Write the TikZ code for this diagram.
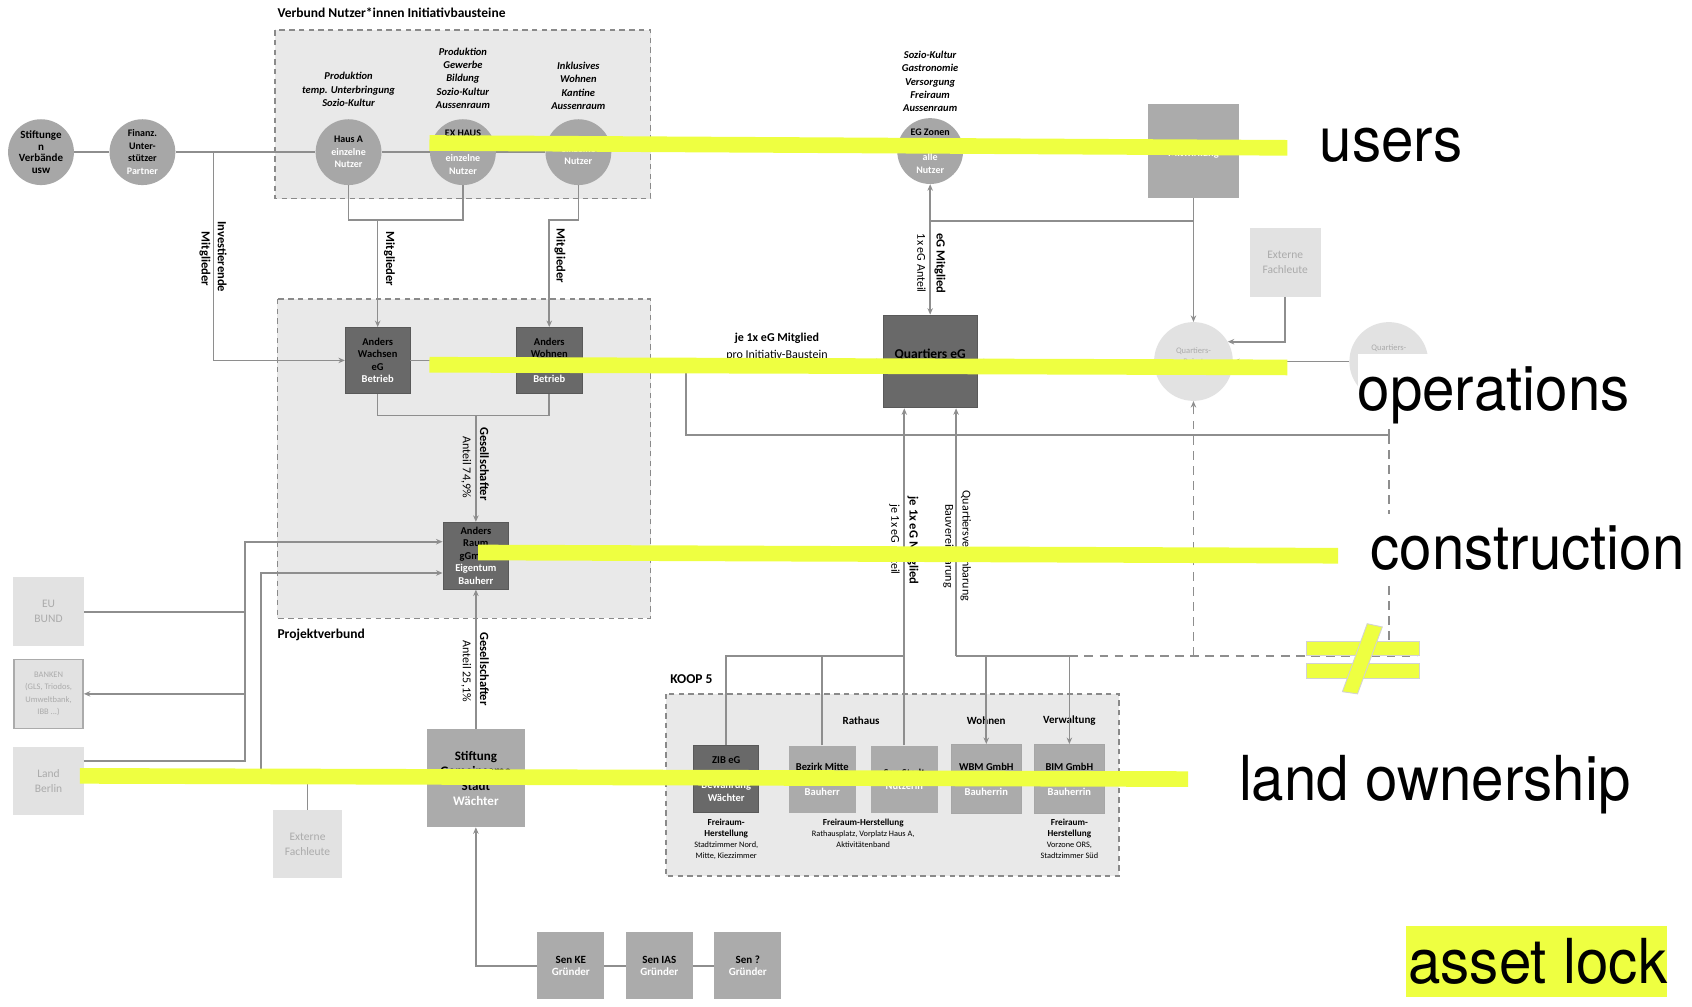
\documentclass[tikz,border=0pt]{standalone}
\usepackage{fontspec}
\usepackage{graphicx}
\setmainfont{Carlito}
\newfontfamily\annofont{TeX Gyre Heros}
\usetikzlibrary{arrows.meta}

\definecolor{linegray}{HTML}{8E8E8E}
\definecolor{areaborder}{HTML}{8A8A8A}
\definecolor{areafill}{HTML}{E9E9E9}
\definecolor{circfill}{HTML}{A7A7A7}
\definecolor{darkfill}{HTML}{696969}
\definecolor{midfill}{HTML}{ABABAB}
\definecolor{lightfill}{HTML}{E2E2E2}
\definecolor{lighttext}{HTML}{ABABAB}
\definecolor{yel}{HTML}{EEFF41}

\newlength\px
\setlength\px{1.079pt}
\newcommand\wt[1]{\textcolor{white}{#1}}
\newcommand\subb{\fontsize{9.2}{11}\selectfont\bfseries}
\newcommand\annotext[1]{\scalebox{0.94}[1]{#1}}

\tikzset{
  conn/.style={draw=linegray, line width=1.5\px},
  dashconn/.style={draw=linegray, line width=1.5\px, dash pattern=on 8\px off 6\px},
  area/.style={draw=areaborder, fill=areafill, line width=1.4\px, dash pattern=on 5\px off 4\px},
  grouptitle/.style={inner sep=0pt, font=\fontsize{13.5}{15}\selectfont\bfseries},
  circ/.style={circle, fill=circfill, minimum size=61\px, inner sep=0pt, align=center,
    font=\fontsize{10}{12.5}\selectfont\bfseries},
  lightcirc/.style={circle, fill=lightfill, minimum size=73\px, inner sep=0pt, align=center,
    text=lighttext, font=\fontsize{8.5}{11}\selectfont},
  darkbox/.style={rectangle, fill=darkfill, draw=darkfill!85!black, line width=0.8\px, inner sep=0pt,
    align=center, font=\fontsize{10.5}{12.6}\selectfont\bfseries},
  midbox/.style={rectangle, fill=midfill, inner sep=0pt, align=center,
    font=\fontsize{10.5}{12.6}\selectfont\bfseries},
  lightbox/.style={rectangle, fill=lightfill, inner sep=0pt, align=center, text=lighttext,
    font=\fontsize{11.5}{15}\selectfont},
  toplbl/.style={inner sep=0pt, align=center, anchor=south, font=\fontsize{10.5}{13.4}\selectfont\bfseries\itshape},
  linelbl/.style={inner sep=0pt, rotate=-90, font=\fontsize{12.5}{14}\selectfont\bfseries},
  linelblthin/.style={inner sep=0pt, rotate=-90, font=\fontsize{12}{14}\selectfont},
  sublbl/.style={inner sep=0pt, align=center, font=\fontsize{11}{13}\selectfont\bfseries},
  kooplbl/.style={inner sep=0pt, align=center, anchor=north, font=\fontsize{8.3}{11}\selectfont},
  anno/.style={inner sep=0pt, anchor=base west, font=\annofont\fontsize{62}{66}\selectfont},
  yelbar/.style={draw=yel, line width=14.5\px},
  noteq/.style={fill=yel, draw=gray!35, line width=0.8\px},
}

\begin{document}
\begin{tikzpicture}[x=1.079pt, y=-1.079pt, >={Stealth[length=6.5pt,width=5.5pt]}]

  %Frame
  \useasboundingbox (0,0) rectangle (1568,933);
  \fill [white] (0,0) rectangle (1568,933);

  %Groups
  \draw [area] (255,28) rectangle (603,184);
  \node [grouptitle, anchor=base west] (tnutzer) at (257,16) {Verbund Nutzer*innen Initiativbausteine};
  \draw [area] (257,277) rectangle (603,573);
  \node [grouptitle, anchor=base west] (tprojekt) at (257,592) {Projektverbund};
  \draw [area] (617,643) rectangle (1037,812);
  \node [grouptitle, anchor=base west] (tkoop) at (621,633) {KOOP 5};

  %Users
  \node [circ, font=\fontsize{11}{11.8}\selectfont\bfseries] (stift) at (38,141) {Stiftunge\\n\\Verbände\\usw};
  \node [circ] (finanz) at (132,141) {Finanz.\\Unter-\\stützer\\\wt{Partner}};
  \node [circ] (hausa) at (323,141) {Haus A\\\wt{einzelne}\\\wt{Nutzer}};
  \node [circ] (exhaus) at (429,141) {EX HAUS\\~\\\wt{einzelne}\\\wt{Nutzer}};
  \node [circ] (hausc) at (536,141) {~\\\wt{einzelne}\\\wt{Nutzer}};
  \node [circ] (egzonen) at (862,140) {EG Zonen\\~\\\wt{alle}\\\wt{Nutzer}};
  \node [midbox, minimum width=85\px, minimum height=87\px] (mitwirkung) at (1106,140) {~\\\wt{Mitwirkung}};

  \node [toplbl] (lhausa) at (323,99) {Produktion\\temp. Unterbringung\\Sozio-Kultur};
  \node [toplbl] (lexhaus) at (429,101) {Produktion\\Gewerbe\\Bildung\\Sozio-Kultur\\Aussenraum};
  \node [toplbl] (lhausc) at (536,102) {Inklusives\\Wohnen\\Kantine\\Aussenraum};
  \node [toplbl] (legzonen) at (862,104) {Sozio-Kultur\\Gastronomie\\Versorgung\\Freiraum\\Aussenraum};

  \coordinate (jinvest) at (198,141);
  \draw [conn] (stift) -- (finanz);
  \draw [conn] (finanz) -- (hausa);
  \draw [conn] (hausa) -- (exhaus);
  \draw [conn] (exhaus) -- (hausc);

  %Operations
  \node [darkbox, minimum width=60\px, minimum height=61\px] (wachsen) at (350,334) {Anders\\Wachsen\\eG\\\wt{Betrieb}};
  \node [darkbox, minimum width=61\px, minimum height=61\px] (wohnen) at (509,334) {Anders\\Wohnen\\eG\\\wt{Betrieb}};
  \node [darkbox, minimum width=87\px, minimum height=86\px, font=\fontsize{13.5}{15}\selectfont\bfseries] (quartiers) at (862,335) {Quartiers eG\\~};
  \node [lightcirc] (beirat) at (1106,335) {Quartiers-\\Beirat\\~};
  \node [lightcirc] (beirat2) at (1287,335) {};
  \node [inner sep=0pt, text=lighttext, font=\fontsize{8.5}{11}\selectfont] (lbeirat2) at (1287,323) {Quartiers-};
  \node [lightbox, minimum width=66\px, minimum height=64\px] (ext2) at (1191,243) {Externe\\Fachleute};

  \coordinate (jhaus) at (350,204);
  \coordinate (jhausc) at (509,204);
  \draw [conn] (hausa) |- (jhaus) -| (exhaus);
  \draw [conn, ->] (jhaus) -- (wachsen);
  \draw [conn, ->] (hausc) |- (jhausc) -- (wohnen);
  \draw [conn, ->] (jinvest) |- (wachsen);
  \draw [conn] (wachsen) -- (wohnen);
  \draw [conn, ->] (wohnen) -- (quartiers);
  \draw [conn, <->] (egzonen) -- (quartiers);

  \coordinate (jmitw) at (1106,205);
  \draw [conn] (egzonen |- jmitw) -- (jmitw);
  \draw [conn] (mitwirkung) -- (jmitw);
  \draw [conn, ->] (jmitw) -- (beirat);
  \draw [conn, ->] (ext2) |- (beirat.30);
  \draw [conn, ->] (beirat2) -- (beirat);
  \draw [conn, ->] (beirat) -- (quartiers);

  \coordinate (jwohnen) at (636,335);
  \coordinate (jrat) at (1287,403);
  \draw [conn] (jwohnen) |- (jrat) -- (beirat2);

  \node [linelbl] (lmitgl1) at (361,240) {Mitglieder};
  \node [linelbl] (lmitgl2) at (519,237) {Mitglieder};
  \node [linelbl] (linvest1) at (206,238) {Investierende};
  \node [linelbl] (linvest2) at (190,240) {Mitglieder};
  \node [linelbl] (legm) at (871,244) {eG Mitglied};
  \node [linelblthin] (lega) at (854,244) {1x eG Anteil};
  \node [inner sep=0pt, align=center, font=\fontsize{12}{16.8}\selectfont] (lproinit) at (720,328)
    {\textbf{je 1x eG Mitglied}\\pro Initiativ-Baustein\\~};

  %Construction
  \node [darkbox, minimum width=61\px, minimum height=62\px] (raum) at (441,515) {Anders\\Raum\\gGmbH\\\wt{Eigentum}\\\wt{Bauherr}};
  \coordinate (jraum) at (441,385);
  \draw [conn] (wachsen) |- (jraum) -| (wohnen);
  \draw [conn, ->] (jraum) -- (raum);
  \node [linelbl] (lges1) at (449,430) {Gesellschafter};
  \node [linelblthin] (lant1) at (432,433) {Anteil 74,9\%};

  %Finanzierung
  \node [lightbox, minimum width=66\px, minimum height=64\px] (eu) at (45,567) {EU\\BUND};
  \node [lightbox, draw=lighttext, line width=1.4\px, minimum width=64\px, minimum height=64\px,
    font=\fontsize{8.5}{12.5}\selectfont] (banken) at (45,643) {BANKEN\\(GLS, Triodos,\\Umweltbank,\\IBB ...)};
  \node [lightbox, minimum width=65\px, minimum height=63\px] (land) at (45,724) {Land\\Berlin};
  \node [lightbox, minimum width=64\px, minimum height=63\px] (ext1) at (285,782) {Externe\\Fachleute};

  \coordinate (bus) at (227,705);
  \coordinate (bus2) at (242,718);
  \draw [conn, ->] (land.east |- bus) -- (bus) |- ([yshift=13\px]raum.west);
  \draw [conn] (eu) -- (eu -| bus);
  \draw [conn, ->] (banken -| bus) -- (banken);
  \draw [conn, ->] (ext1) |- (bus2) |- ([yshift=-16\px]raum.west);

  %Land ownership
  \node [midbox, minimum width=91\px, minimum height=91\px, font=\fontsize{13}{15}\selectfont\bfseries] (stiftung) at (441,721) {Stiftung\\Gemeinsame\\Stadt\\\wt{Wächter}};
  \draw [conn, ->] (stiftung) -- (raum);
  \node [linelbl] (lges2) at (449,620) {Gesellschafter};
  \node [linelblthin] (lant2) at (432,622) {Anteil 25,1\%};

  \node [midbox, minimum width=62\px, minimum height=62\px, font=\fontsize{11}{12.4}\selectfont\bfseries] (senke) at (529,895) {Sen KE\\\wt{Gründer}};
  \node [midbox, minimum width=62\px, minimum height=62\px, font=\fontsize{11}{12.4}\selectfont\bfseries] (senias) at (611,895) {Sen IAS\\\wt{Gründer}};
  \node [midbox, minimum width=62\px, minimum height=62\px, font=\fontsize{11}{12.4}\selectfont\bfseries] (senx) at (693,895) {Sen ?\\\wt{Gründer}};
  \draw [conn, ->] (senke) -| (stiftung);
  \draw [conn] (senke) -- (senias);
  \draw [conn] (senias) -- (senx);

  %KOOP 5
  \node [darkbox, minimum width=60\px, minimum height=62\px] (zib) at (673,722) {ZIB eG\\~\\\wt{Bewahrung}\\\wt{Wächter}};
  \node [midbox, minimum width=62\px, minimum height=62\px] (bezirk) at (762,722) {Bezirk Mitte\\~\\\wt{Bauherr}};
  \node [midbox, minimum width=62\px, minimum height=62\px] (senstadt) at (838,722) {Sen Stadt\\\wt{Nutzerin}};
  \node [midbox, draw=gray!70, line width=1\px, minimum width=65\px, minimum height=64\px] (wbm) at (914,722) {WBM GmbH\\~\\\wt{Bauherrin}};
  \node [midbox, draw=gray!70, line width=1\px, minimum width=65\px, minimum height=64\px] (bim) at (991,722) {BIM GmbH\\~\\\wt{Bauherrin}};

  \node [sublbl] (lrathaus) at (798,668) {Rathaus};
  \node [sublbl] (lwohnen) at (914,668) {Wohnen};
  \node [sublbl] (lverw) at (991,668) {Verwaltung};
  \node [kooplbl] (lzib) at (673,759) {{\subb Freiraum-}\\{\subb Herstellung}\\Stadtzimmer Nord,\\Mitte, Kiezzimmer};
  \node [kooplbl] (lbezirk) at (800,759) {{\subb Freiraum-Herstellung}\\Rathausplatz, Vorplatz Haus A,\\Aktivitätenband};
  \node [kooplbl] (lbim) at (991,759) {{\subb Freiraum-}\\{\subb Herstellung}\\Vorzone ORS,\\Stadtzimmer Süd};

  \coordinate (jsen) at (838,608);
  \coordinate (jkoop) at (886,608);
  \coordinate (jend) at (1313,608);
  \draw [conn, ->] (senstadt) -- (senstadt |- quartiers.south);
  \draw [conn] (zib) |- (jsen);
  \draw [conn] (bezirk) -- (bezirk |- jsen);
  \draw [conn, ->] (jkoop) -- (jkoop |- quartiers.south);
  \draw [conn, ->] (jkoop) -| (wbm);
  \draw [conn, ->] (jkoop) -| (bim);
  \draw [dashconn] (bim |- jkoop) -- (jend);
  \draw [dashconn] (jrat) -- (jrat |- jend);
  \draw [dashconn, ->] (beirat.south |- jend) -- (beirat);

  \node [linelbl] (lsenm) at (846,501) {je 1x eG Mitglied};
  \node [linelblthin] (lsena) at (829,500) {je 1x eG Anteil};
  \node [linelblthin] (lqv) at (895,506) {Quartiersvereinbarung};
  \node [linelblthin] (lbv) at (879,506) {Bauvereinbarung};

  %Annotations
  \draw [yelbar] (398,132.5) -- (1193,137);
  \draw [yelbar] (398,338) -- (1193,340.5);
  \draw [yelbar] (443,512) -- (1240,515);
  \draw [yelbar] (74,719) -- (1101,722);

  \fill [white] (1258,328) rectangle (1568,398);
  \fill [white] (1258,476) rectangle (1568,541);
  \node [anno] (tusers) at (1223,150) {\annotext{users}};
  \node [anno] (toper) at (1258,380) {\annotext{operations}};
  \node [anno] (tconstr) at (1270,528) {\annotext{construction}};
  \node [anno] (tland) at (1148,742) {\annotext{land ownership}};

  %Not equal
  \filldraw [noteq] (1211,594) rectangle (1315,607);
  \filldraw [noteq] (1211,615) rectangle (1315,629);
  \filldraw [noteq] (1244,641) -- (1258,643) -- (1281,581) -- (1267,578) -- cycle;

  %Asset lock
  \fill [yel] (1303,858) rectangle (1545,924);
  \node [anno] (tasset) at (1305,911) {\annotext{asset lock}};

\end{tikzpicture}
\end{document}
